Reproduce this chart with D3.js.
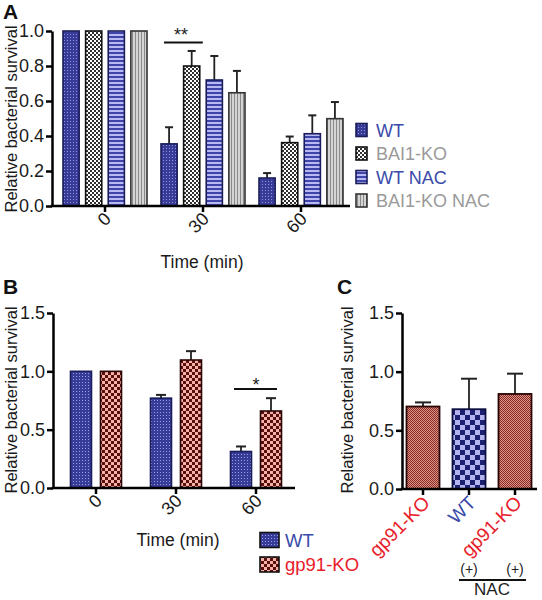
<!DOCTYPE html>
<html><head><meta charset="utf-8">
<script src="https://cdn.jsdelivr.net/npm/d3@7"></script>
<style>body{margin:0;background:#fff}svg{display:block}text{font-family:"Liberation Sans",Arial,sans-serif}</style>
</head><body>
<svg id="c" width="542" height="600"></svg>
<script>
// ---- data ----
const timesA = ["0", "30", "60"];
const seriesA = ["WT", "BAI1-KO", "WT NAC", "BAI1-KO NAC"];
const wtA = [1.0, 0.355, 0.16];
const wtAErr = [0, 0.095, 0.028];
const baiA = [1.0, 0.80, 0.362];
const baiAErr = [0, 0.086, 0.035];
const wtNacA = [1.0, 0.72, 0.413];
const wtNacAErr = [0, 0.137, 0.105];
const baiNacA = [1.0, 0.647, 0.499];
const baiNacAErr = [0, 0.125, 0.095];
const ticksA = [0, 0.2, 0.4, 0.6, 0.8, 1.0];

const timesB = ["0", "30", "60"];
const seriesB = ["WT", "gp91-KO"];
const wtB = [1.0, 0.77, 0.313];
const wtBErr = [0, 0.028, 0.043];
const gpB = [1.0, 1.097, 0.66];
const gpBErr = [0, 0.076, 0.11];
const ticksB = [0, 0.5, 1.0, 1.5];

const catsC = ["gp91-KO", "WT", "gp91-KO NAC"];
const labelsC = ["gp91-KO", "WT", "gp91-KO"];
const valC = [0.703, 0.68, 0.81];
const errC = [0.035, 0.26, 0.173];
const nacC = ["", "(+)", "(+)"];

// ---- setup ----
const svg = d3.select("#c");
const defs = svg.append("defs");
function pat(id, w, h, bg, draw) {
  const p = defs.append("pattern").attr("id", id).attr("patternUnits", "userSpaceOnUse")
    .attr("width", w).attr("height", h);
  p.append("rect").attr("width", w).attr("height", h).attr("fill", bg);
  draw(p);
}
pat("pWT", 3, 3, "#383c98", p => p.append("rect").attr("x", 1).attr("y", 1).attr("width", 1).attr("height", 1).attr("fill", "#8e92d6"));
pat("pBAI", 4, 4, "#fff", p => {
  p.append("rect").attr("x", 0).attr("y", 0).attr("width", 2).attr("height", 2).attr("fill", "#303030");
  p.append("rect").attr("x", 2).attr("y", 2).attr("width", 2).attr("height", 2).attr("fill", "#303030");
});
pat("pWTN", 4, 4, "#b8b8f2", p => p.append("rect").attr("x", 0).attr("y", 0).attr("width", 4).attr("height", 2).attr("fill", "#3f45a8"));
pat("pBAIN", 3, 3, "#d4d4d4", p => p.append("rect").attr("x", 0).attr("y", 0).attr("width", 1).attr("height", 3).attr("fill", "#8a8a8a"));
pat("pGP", 6, 6, "#f5b3a8", p => {
  p.append("rect").attr("x", 0).attr("y", 0).attr("width", 3).attr("height", 3).attr("fill", "#5a0e0e");
  p.append("rect").attr("x", 3).attr("y", 3).attr("width", 3).attr("height", 3).attr("fill", "#5a0e0e");
});
pat("pWTB", 3, 3, "#373c98", p => p.append("rect").attr("x", 1).attr("y", 1).attr("width", 1).attr("height", 1).attr("fill", "#9a9ee0"));
pat("pGPC", 2, 2, "#dc9484", p => {
  p.append("rect").attr("x", 0).attr("y", 0).attr("width", 1).attr("height", 1).attr("fill", "#8a2a28");
  p.append("rect").attr("x", 1).attr("y", 1).attr("width", 1).attr("height", 1).attr("fill", "#8a2a28");
});
pat("pWTC", 10, 10, "#b4b4f0", p => {
  p.append("rect").attr("x", 0).attr("y", 0).attr("width", 5).attr("height", 5).attr("fill", "#1c2070");
  p.append("rect").attr("x", 5).attr("y", 5).attr("width", 5).attr("height", 5).attr("fill", "#1c2070");
});

const BLUE = "#3a4aa8", GREY = "#9a9a9a", RED = "#e8202a";

function yAxis(g, y, ticks, x0) {
  const ax = g.append("g").attr("transform", `translate(${x0},0)`)
    .call(d3.axisLeft(y).tickValues(ticks).tickFormat(d3.format(".1f")).tickSize(6).tickSizeOuter(0));
  ax.select(".domain").attr("stroke", "#000").attr("stroke-width", 2.5);
  ax.selectAll(".tick line").attr("stroke", "#000").attr("stroke-width", 2.5);
  ax.selectAll(".tick text").attr("font-size", 18).attr("fill", "#1a1a1a").attr("x", -8)
    .style("font-family", "Liberation Sans, Arial, sans-serif");
  return ax;
}
function xAxisLine(g, x0, x1, y0) {
  g.append("line").attr("x1", x0 - 1.25).attr("x2", x1).attr("y1", y0).attr("y2", y0)
    .attr("stroke", "#000").attr("stroke-width", 2.5);
}
function errBar(g, cx, yTop, yErr, cap) {
  g.append("line").attr("x1", cx).attr("x2", cx).attr("y1", yTop).attr("y2", yErr).attr("stroke", "#222").attr("stroke-width", 1.8);
  g.append("line").attr("x1", cx - cap / 2).attr("x2", cx + cap / 2).attr("y1", yErr).attr("y2", yErr).attr("stroke", "#222").attr("stroke-width", 2);
}
function ylabel(text, x, cy) {
  svg.append("text").attr("transform", `translate(${x},${cy}) rotate(-90)`).attr("text-anchor", "middle")
    .attr("font-size", 16.5).attr("fill", "#1a1a1a").text(text);
}

// ---- Panel A ----
{
  const g = svg.append("g");
  const y = d3.scaleLinear().domain([0, 1]).range([206, 31]);
  const x = d3.scaleBand().domain(timesA).range([56, 350]);
  const xs = d3.scaleBand().domain(seriesA).range([0, 84]).paddingInner(6 / 21).paddingOuter(0);
  const vals = [wtA, baiA, wtNacA, baiNacA];
  const errs = [wtAErr, baiAErr, wtNacAErr, baiNacAErr];
  const fills = ["url(#pWT)", "url(#pBAI)", "url(#pWTN)", "url(#pBAIN)"];
  const strokes = ["#1a1d5a", "#111", "#1a1d5a", "#333"];
  seriesA.forEach((s, si) => {
    timesA.forEach((t, ti) => {
      const bx = x(t) + x.bandwidth() / 2 - 42 + xs(s);
      const bw = xs.bandwidth();
      const v = vals[si][ti], e = errs[si][ti];
      if (e > 0) errBar(g, bx + bw / 2, y(v), y(v + e), 8);
      g.append("rect").attr("x", bx).attr("y", y(v)).attr("width", bw).attr("height", y(0) - y(v))
        .attr("fill", fills[si]).attr("stroke", strokes[si]).attr("stroke-width", 1.6);
    });
  });
  yAxis(g, y, ticksA, 52);
  xAxisLine(g, 52, 350, 206);
  timesA.forEach(t => {
    const cx = x(t) + x.bandwidth() / 2;
    g.append("line").attr("x1", cx).attr("x2", cx).attr("y1", 206).attr("y2", 212).attr("stroke", "#000").attr("stroke-width", 2.5);
    g.append("text").attr("transform", `translate(${cx + 7},${220}) rotate(-45)`).attr("text-anchor", "end")
      .attr("font-size", 18).attr("fill", "#1a1a1a").text(t);
  });
  svg.append("text").attr("x", 202).attr("y", 268).attr("text-anchor", "middle").attr("font-size", 17.5).attr("fill", "#1a1a1a").text("Time (min)");
  // significance
  const c30 = x("30") + x.bandwidth() / 2 - 42;
  g.append("line").attr("x1", c30 + xs("WT") + 3).attr("x2", c30 + xs("BAI1-KO") + xs.bandwidth() + 3).attr("y1", 42.5).attr("y2", 42.5).attr("stroke", "#111").attr("stroke-width", 2);
  g.append("text").attr("x", c30 + 20).attr("y", 41).attr("text-anchor", "middle").attr("font-size", 18).attr("fill", "#222").text("**");
  // legend
  const lcol = [BLUE, GREY, BLUE, GREY];
  seriesA.forEach((s, i) => {
    const cy = 130 + i * 23.5;
    g.append("rect").attr("x", 356).attr("y", cy - 6.5).attr("width", 11).attr("height", 13).attr("fill", fills[i]).attr("stroke", strokes[i]).attr("stroke-width", 1.6);
    g.append("text").attr("x", 376).attr("y", cy + 6.5).attr("font-size", 18).attr("fill", lcol[i]).text(s);
  });
  ylabel("Relative bacterial survival", 17, 119);
  svg.append("text").attr("x", 3).attr("y", 19).attr("font-size", 21).attr("font-weight", "bold").attr("fill", "#111").text("A");
}

// ---- Panel B ----
{
  const g = svg.append("g");
  const y = d3.scaleLinear().domain([0, 1.5]).range([488, 313]);
  const x = d3.scaleBand().domain(timesB).range([56, 296]);
  const vals = [wtB, gpB], errs = [wtBErr, gpBErr];
  const fills = ["url(#pWTB)", "url(#pGP)"];
  const strokes = ["#1a1d5a", "#2a0505"];
  const offs = [-15, 15];
  seriesB.forEach((s, si) => {
    timesB.forEach((t, ti) => {
      const cx = x(t) + x.bandwidth() / 2 + offs[si];
      const v = vals[si][ti], e = errs[si][ti];
      if (e > 0) errBar(g, cx, y(v), y(v + e), 10);
      g.append("rect").attr("x", cx - 10.5).attr("y", y(v)).attr("width", 21).attr("height", y(0) - y(v))
        .attr("fill", fills[si]).attr("stroke", strokes[si]).attr("stroke-width", 1.6);
    });
  });
  yAxis(g, y, ticksB, 53);
  xAxisLine(g, 53, 295, 488);
  timesB.forEach(t => {
    const cx = x(t) + x.bandwidth() / 2;
    g.append("line").attr("x1", cx).attr("x2", cx).attr("y1", 488).attr("y2", 494).attr("stroke", "#000").attr("stroke-width", 2.5);
    g.append("text").attr("transform", `translate(${cx + 7},${502}) rotate(-45)`).attr("text-anchor", "end")
      .attr("font-size", 18).attr("fill", "#1a1a1a").text(t);
  });
  svg.append("text").attr("x", 178).attr("y", 546).attr("text-anchor", "middle").attr("font-size", 17.5).attr("fill", "#1a1a1a").text("Time (min)");
  const c60 = x("60") + x.bandwidth() / 2;
  g.append("line").attr("x1", c60 - 22).attr("x2", c60 + 21).attr("y1", 389).attr("y2", 389).attr("stroke", "#111").attr("stroke-width", 2);
  g.append("text").attr("x", c60).attr("y", 391).attr("text-anchor", "middle").attr("font-size", 18).attr("fill", "#222").text("*");
  const lcol = [BLUE, RED];
  seriesB.forEach((s, i) => {
    const cy = 540 + i * 24.5;
    g.append("rect").attr("x", 260).attr("y", cy - 7.5).attr("width", 19).attr("height", 15).attr("fill", fills[i]).attr("stroke", "#111").attr("stroke-width", 1.6);
    g.append("text").attr("x", 285).attr("y", cy + 6.5).attr("font-size", 18.5).attr("fill", lcol[i]).text(s);
  });
  ylabel("Relative bacterial  survival", 17, 400);
  svg.append("text").attr("x", 3).attr("y", 294).attr("font-size", 21).attr("font-weight", "bold").attr("fill", "#111").text("B");
}

// ---- Panel C ----
{
  const g = svg.append("g");
  const y = d3.scaleLinear().domain([0, 1.5]).range([489, 313]);
  const x = d3.scaleBand().domain(catsC).range([400, 538]);
  const fills = ["url(#pGPC)", "url(#pWTC)", "url(#pGPC)"];
  const strokes = ["#2a0505", "#0c0f40", "#2a0505"];
  const lcols = [RED, BLUE, RED];
  catsC.forEach((c, i) => {
    const cx = x(c) + x.bandwidth() / 2;
    errBar(g, cx, y(valC[i]), y(valC[i] + errC[i]), 16);
    g.append("rect").attr("x", cx - 16.5).attr("y", y(valC[i])).attr("width", 33).attr("height", y(0) - y(valC[i]))
      .attr("fill", fills[i]).attr("stroke", strokes[i]).attr("stroke-width", 1.8);
  });
  yAxis(g, y, ticksB, 402);
  xAxisLine(g, 402, 537, 489);
  catsC.forEach((c, i) => {
    const cx = x(c) + x.bandwidth() / 2;
    g.append("line").attr("x1", cx).attr("x2", cx).attr("y1", 489).attr("y2", 495).attr("stroke", "#000").attr("stroke-width", 2.5);
    g.append("text").attr("transform", `translate(${cx + 8},${504}) rotate(-45)`).attr("text-anchor", "end")
      .attr("font-size", 19).attr("fill", lcols[i]).text(labelsC[i]);
    if (nacC[i]) g.append("text").attr("x", cx).attr("y", 574).attr("text-anchor", "middle").attr("font-size", 14).attr("fill", "#222").text(nacC[i]);
  });
  g.append("line").attr("x1", 459).attr("x2", 526).attr("y1", 580).attr("y2", 580).attr("stroke", "#111").attr("stroke-width", 2);
  g.append("text").attr("x", 492).attr("y", 595).attr("text-anchor", "middle").attr("font-size", 17).attr("fill", "#222").text("NAC");
  ylabel("Relative bacterial survival", 353, 400);
  svg.append("text").attr("x", 337).attr("y", 294).attr("font-size", 21).attr("font-weight", "bold").attr("fill", "#111").text("C");
}
</script>
</body></html>
